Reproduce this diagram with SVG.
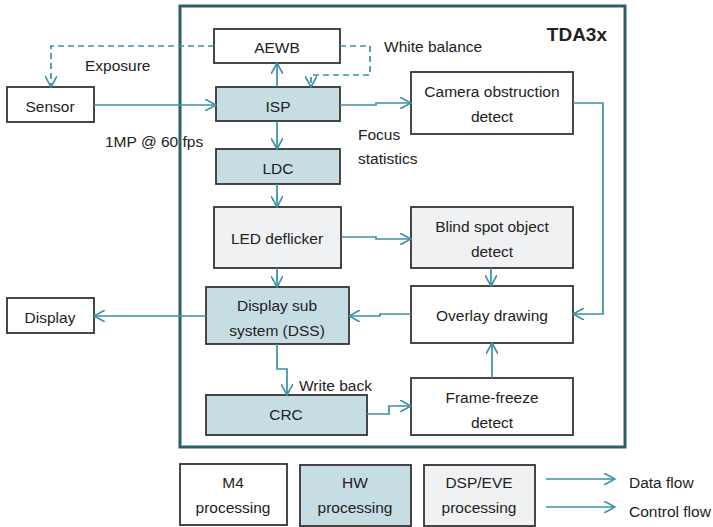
<svg xmlns="http://www.w3.org/2000/svg" width="713" height="527" viewBox="0 0 713 527">
<style>
  text { font-family: "Liberation Sans", Arial, sans-serif; font-size: 15.5px; fill: #222; }
  .c { text-anchor: middle; }
  .box { stroke: #333; stroke-width: 1.8; }
  .m4 { fill: #ffffff; }
  .hw { fill: #c5dde3; }
  .dsp { fill: #f0f1f3; }
  .conn path { fill: none; stroke: #3a90a6; stroke-width: 1.7; }
  .conn .dash { stroke-dasharray: 6 4; }
</style>
<defs>
  <marker id="arr" viewBox="0 0 12 12" refX="11" refY="6" markerWidth="12" markerHeight="12" markerUnits="userSpaceOnUse" orient="auto">
    <path d="M0,0 L11,6 L0,12" fill="none" stroke="#3a90a6" stroke-width="1.6"/>
  </marker>
</defs>
<rect width="713" height="527" fill="#ffffff"/>

<g id="container">
  <rect x="180" y="6" width="445" height="441" fill="none" stroke="#2b5f6b" stroke-width="3"/>
  <text x="607" y="41" style="font-size:19px;font-weight:bold;text-anchor:end">TDA3x</text>
</g>

<g id="aewb"><rect class="box m4" x="214" y="29" width="126" height="34"/><text class="c" x="277" y="53">AEWB</text></g>
<g id="isp"><rect class="box hw" x="216" y="87" width="124" height="34"/><text class="c" x="278" y="112">ISP</text></g>
<g id="sensor"><rect class="box m4" x="7" y="87" width="87" height="35"/><text class="c" x="50" y="112">Sensor</text></g>
<g id="ldc"><rect class="box hw" x="216" y="149" width="124" height="35"/><text class="c" x="278" y="174">LDC</text></g>
<g id="led"><rect class="box dsp" x="214" y="207" width="127" height="61"/><text class="c" x="277" y="244">LED deflicker</text></g>
<g id="dss"><rect class="box hw" x="206" y="287" width="143" height="57"/><text class="c" x="277" y="311">Display sub</text><text class="c" x="277" y="336">system (DSS)</text></g>
<g id="display"><rect class="box m4" x="7" y="298" width="87" height="35"/><text class="c" x="50" y="323">Display</text></g>
<g id="crc"><rect class="box hw" x="206" y="395" width="161" height="40"/><text class="c" x="286" y="420">CRC</text></g>
<g id="camera"><rect class="box m4" x="411" y="72" width="162" height="62"/><text class="c" x="492" y="97">Camera obstruction</text><text class="c" x="492" y="122">detect</text></g>
<g id="blind"><rect class="box dsp" x="411" y="207" width="162" height="61"/><text class="c" x="492" y="232">Blind spot object</text><text class="c" x="492" y="257">detect</text></g>
<g id="overlay"><rect class="box m4" x="411" y="286" width="162" height="57"/><text class="c" x="492" y="321">Overlay drawing</text></g>
<g id="freeze"><rect class="box m4" x="411" y="378" width="162" height="57"/><text class="c" x="492" y="403">Frame-freeze</text><text class="c" x="492" y="428">detect</text></g>

<g id="legend-m4"><rect class="box m4" x="180" y="464" width="107" height="61"/><text class="c" x="233" y="488">M4</text><text class="c" x="233" y="513">processing</text></g>
<g id="legend-hw"><rect class="box hw" x="300" y="465" width="111" height="61"/><text class="c" x="355" y="488">HW</text><text class="c" x="355" y="513">processing</text></g>
<g id="legend-dsp"><rect class="box dsp" x="424" y="465" width="111" height="61"/><text class="c" x="479" y="488">DSP/EVE</text><text class="c" x="479" y="513">processing</text></g>

<g id="labels">
  <text x="85" y="71">Exposure</text>
  <text x="384" y="52">White balance</text>
  <text x="105" y="147">1MP @ 60 fps</text>
  <text x="358" y="140">Focus</text>
  <text x="358" y="164">statistics</text>
  <text x="299" y="391">Write back</text>
  <text x="629" y="488">Data flow</text>
  <text x="629" y="517">Control flow</text>
</g>

<g id="connectors" class="conn">
  <path d="M94,105 H216" marker-end="url(#arr)"/>
  <path d="M277,87 V63" marker-end="url(#arr)"/>
  <path class="dash" d="M214,46 H51 V87" marker-end="url(#arr)"/>
  <path class="dash" d="M340,46 H370 V75 H311 V87" marker-end="url(#arr)"/>
  <path d="M340,105 H376 V103 H411" marker-end="url(#arr)"/>
  <path d="M573,103 H603 V314 H573" marker-end="url(#arr)"/>
  <path d="M277,121 V149" marker-end="url(#arr)"/>
  <path d="M277,184 V207" marker-end="url(#arr)"/>
  <path d="M341,237 H376 V239 H411" marker-end="url(#arr)"/>
  <path d="M491,268 V286" marker-end="url(#arr)"/>
  <path d="M277,268 V287" marker-end="url(#arr)"/>
  <path d="M411,314 H380 V316 H349" marker-end="url(#arr)"/>
  <path d="M206,316 H94" marker-end="url(#arr)"/>
  <path d="M277,344 V369 H287 V395" marker-end="url(#arr)"/>
  <path d="M367,414 H389 V406 H411" marker-end="url(#arr)"/>
  <path d="M492,378 V343" marker-end="url(#arr)"/>
  <path d="M546,479 H615" marker-end="url(#arr)"/>
  <path d="M546,507 H615" marker-end="url(#arr)"/>
</g>
</svg>
